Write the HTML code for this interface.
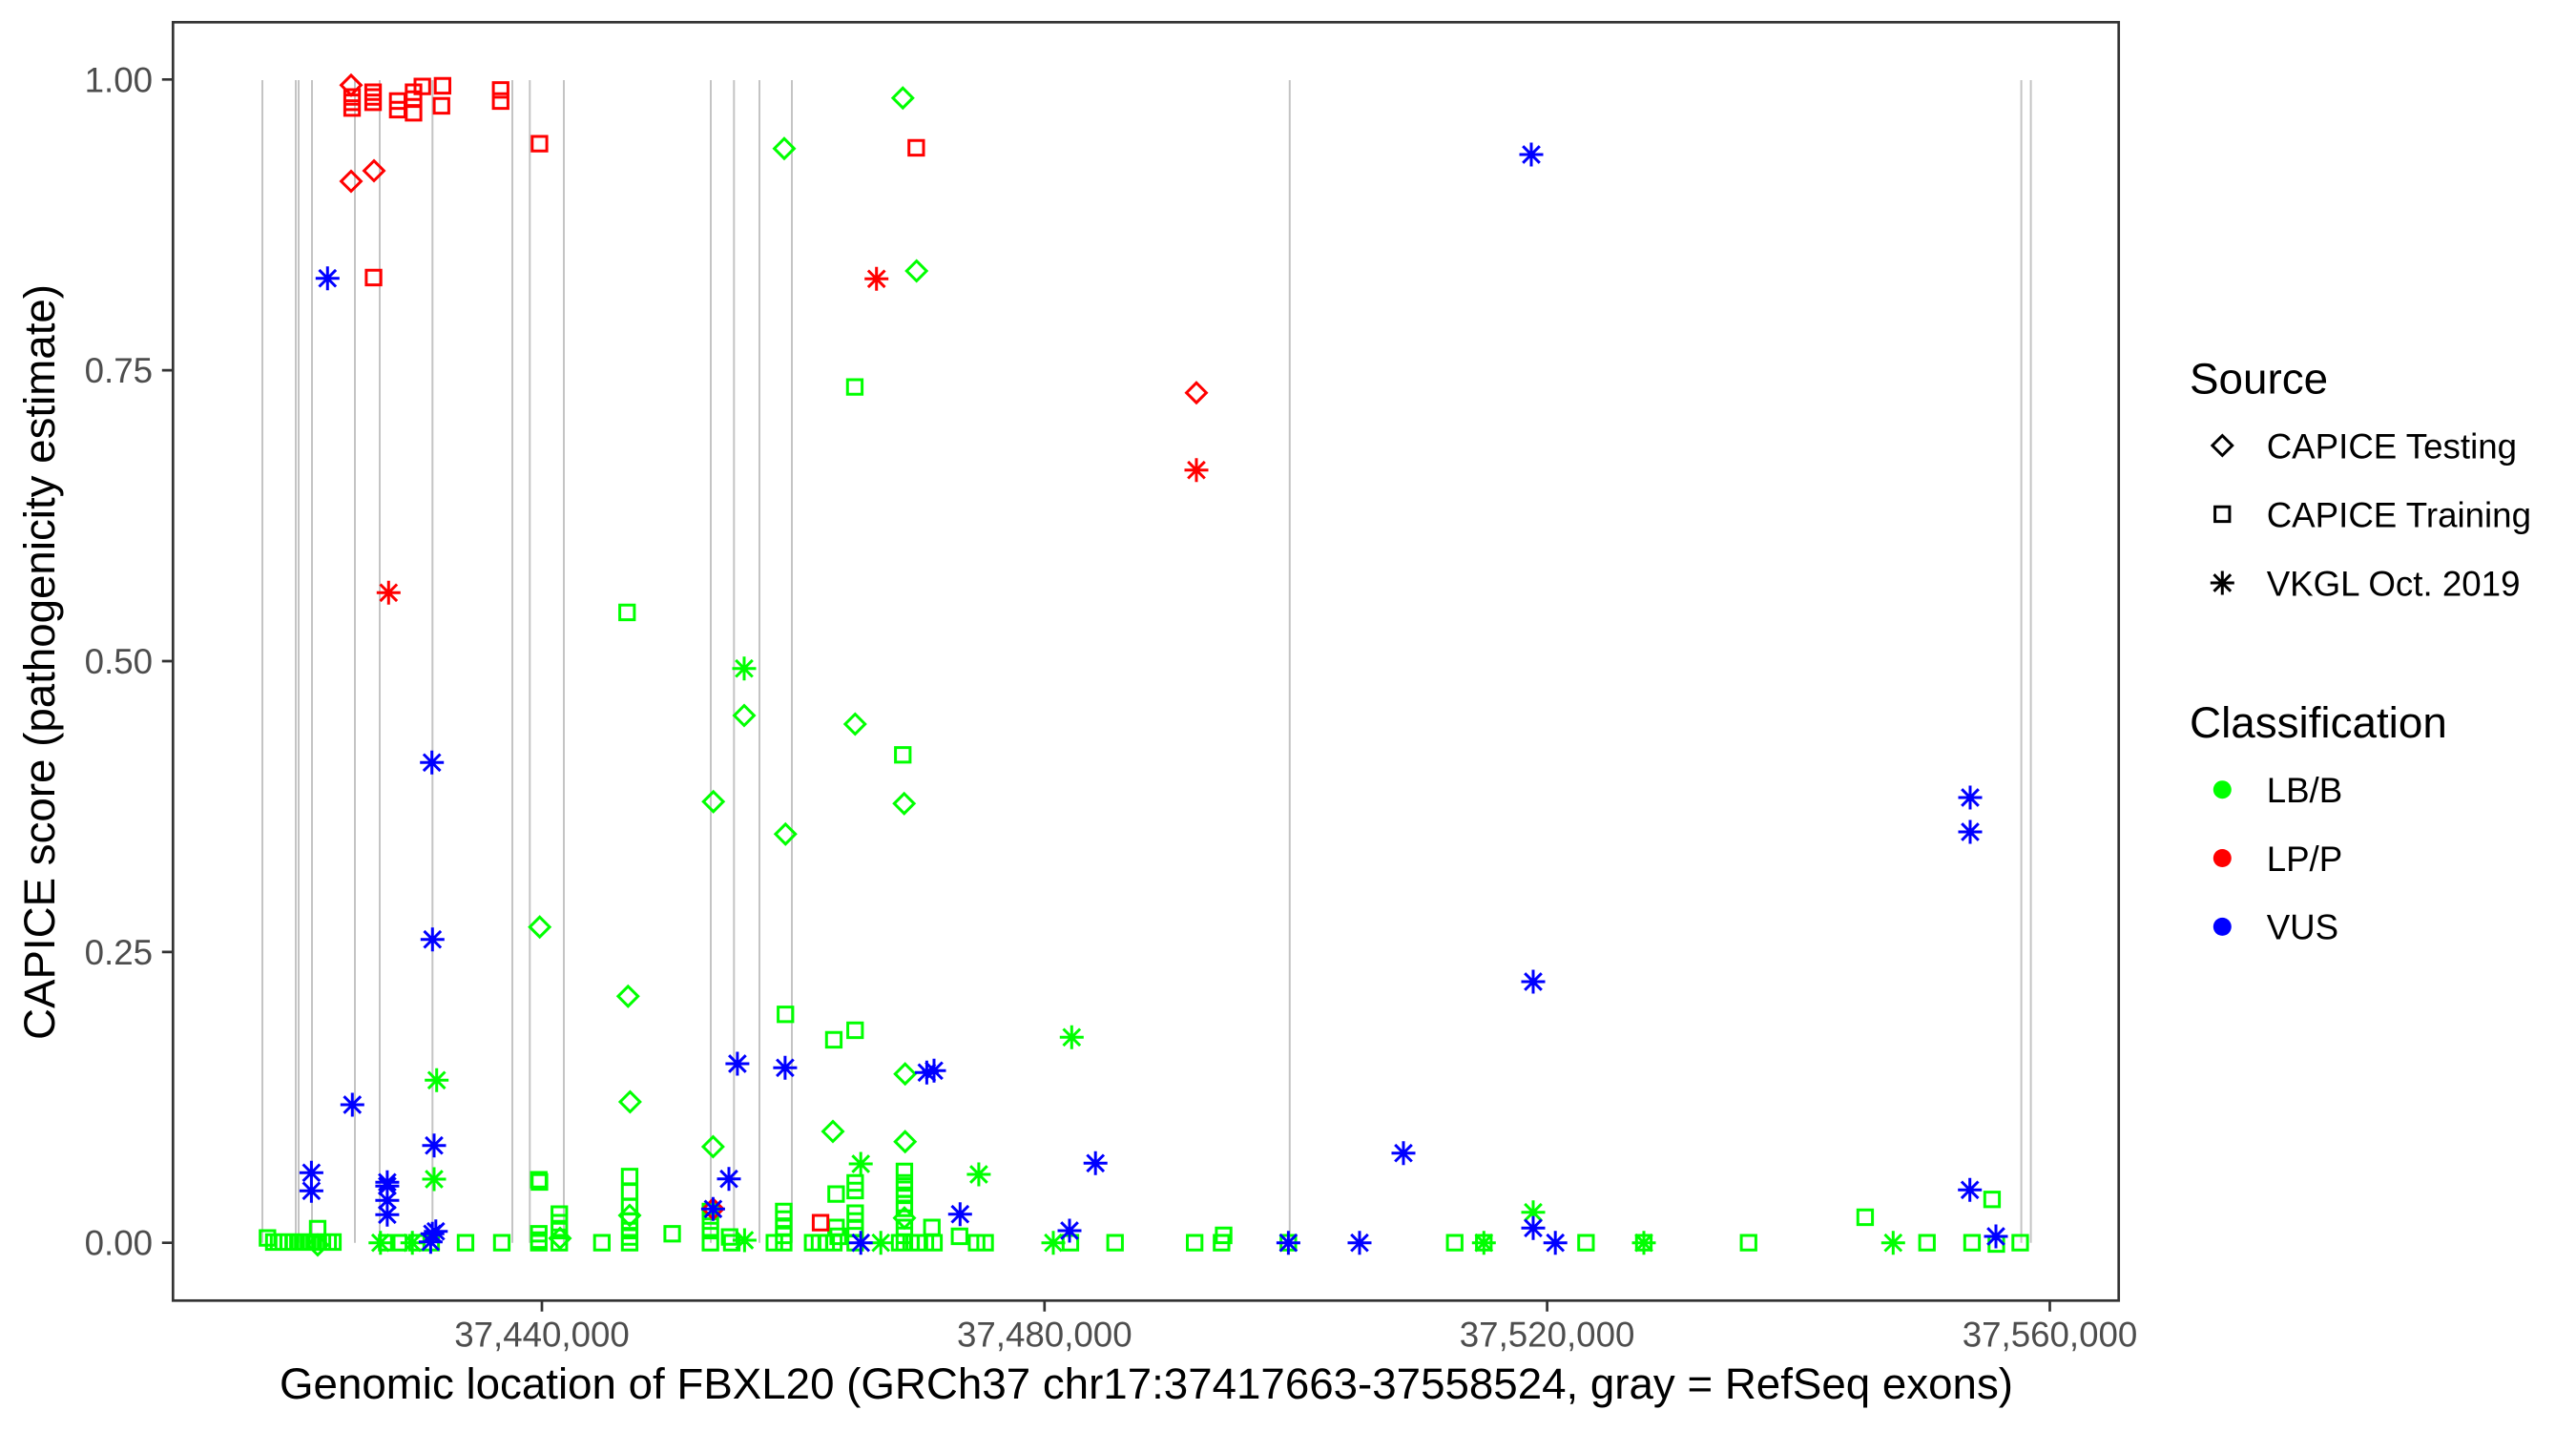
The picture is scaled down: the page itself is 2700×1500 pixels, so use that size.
<!DOCTYPE html>
<html>
<head>
<meta charset="utf-8">
<style>
html,body{margin:0;padding:0;background:#fff;}
svg{display:block;}
text{font-family:"Liberation Sans",Arial,Helvetica,sans-serif;}
</style>
</head>
<body>
<svg width="2700" height="1500" viewBox="0 0 2700 1500" xmlns="http://www.w3.org/2000/svg">
<rect x="0" y="0" width="2700" height="1500" fill="#ffffff"/>
<rect x="181.3" y="23.3" width="2039.4" height="1340" fill="#ffffff"/>

<!-- exon lines -->
<path fill="none" stroke="#C4C4C4" stroke-width="2" d="M275 84V1302.7M310 84V1302.7M313 84V1302.7M327 84V1302.7M372 84V1302.7M398 84V1302.7M453.3 84V1302.7M537 84V1302.7M555.3 84V1302.7M591 84V1302.7M745 84V1302.7M769.3 84V1302.7M796 84V1302.7M830 84V1302.7M1351.8 84V1302.7M2118.6 84V1302.7M2128.6 84V1302.7"/>

<!-- green squares -->
<path fill="none" stroke="#00FF00" stroke-width="3" d="
M649.6 634.3h15.3v15.3h-15.3z M938.6 783.6h15.3v15.3h-15.3z M815.6 1055.6h15.3v15.3h-15.3z M866.3 1082.3h15.3v15.3h-15.3z M888.6 1072.3h15.3v15.3h-15.3z M888.3 398h15.3v15.3h-15.3z
M737 1262.3h15.3v15.3h-15.3z M557.1 1229h15.3v15.3h-15.3z M557.8 1231.3h15.3v15.3h-15.3z M557.1 1285.6h15.3v15.3h-15.3z M557.1 1292.3h15.3v15.3h-15.3z M557.1 1295h15.3v15.3h-15.3z
M578.6 1265h15.3v15.3h-15.3z M578.6 1274h15.3v15.3h-15.3z M578.6 1282.3h15.3v15.3h-15.3z M578.6 1295h15.3v15.3h-15.3z
M652.3 1225.6h15.3v15.3h-15.3z M652.3 1241.6h15.3v15.3h-15.3z M652.3 1257.3h15.3v15.3h-15.3z M652.3 1272.3h15.3v15.3h-15.3z M652.3 1282.3h15.3v15.3h-15.3z M652.3 1289h15.3v15.3h-15.3z M652.3 1295h15.3v15.3h-15.3z
M868.7 1244h15.3v15.3h-15.3z M696.9 1285.6h15.3v15.3h-15.3z M737 1272.3h15.3v15.3h-15.3z M737 1282.3h15.3v15.3h-15.3z M737 1295h15.3v15.3h-15.3z M757.1 1289h15.3v15.3h-15.3z M759.3 1295h15.3v15.3h-15.3z
M623.2 1295h15.3v15.3h-15.3z M480.3 1295h15.3v15.3h-15.3z M518.3 1295h15.3v15.3h-15.3z M397.7 1295h15.3v15.3h-15.3z M410.3 1295h15.3v15.3h-15.3z M429.3 1295h15.3v15.3h-15.3z M444.3 1295h15.3v15.3h-15.3z
M272.7 1290h15.3v15.3h-15.3z M279.3 1294.3h15.3v15.3h-15.3z M284.3 1294.3h15.3v15.3h-15.3z M289.3 1294.3h15.3v15.3h-15.3z M294.3 1294.3h15.3v15.3h-15.3z M300.3 1294.3h15.3v15.3h-15.3z M306.3 1294.3h15.3v15.3h-15.3z M312.3 1294.3h15.3v15.3h-15.3z M318.3 1294.3h15.3v15.3h-15.3z M324.3 1294.3h15.3v15.3h-15.3z M330.3 1294.3h15.3v15.3h-15.3z M336.3 1294.3h15.3v15.3h-15.3z M341.3 1294.3h15.3v15.3h-15.3z M325.3 1280.3h15.3v15.3h-15.3z
M813.8 1262.3h15.3v15.3h-15.3z M813.8 1270.3h15.3v15.3h-15.3z M813.8 1279h15.3v15.3h-15.3z M813.8 1287.3h15.3v15.3h-15.3z M813.8 1295h15.3v15.3h-15.3z M804 1295h15.3v15.3h-15.3z
M844.1 1295h15.3v15.3h-15.3z M851.3 1295h15.3v15.3h-15.3z M858.3 1295h15.3v15.3h-15.3z M866.3 1295h15.3v15.3h-15.3z M870.9 1288.3h15.3v15.3h-15.3z M868.6 1279h15.3v15.3h-15.3z
M888.7 1232.3h15.3v15.3h-15.3z M888.7 1240.3h15.3v15.3h-15.3z M888.7 1264h15.3v15.3h-15.3z M888.7 1272.3h15.3v15.3h-15.3z M888.7 1280.3h15.3v15.3h-15.3z M888.7 1295h15.3v15.3h-15.3z
M940.3 1220.3h15.3v15.3h-15.3z M940.3 1232.3h15.3v15.3h-15.3z M940.3 1239h15.3v15.3h-15.3z M940.3 1245.3h15.3v15.3h-15.3z M940.3 1254h15.3v15.3h-15.3z M940.3 1259h15.3v15.3h-15.3z M940.3 1279h15.3v15.3h-15.3z M940.3 1287.3h15.3v15.3h-15.3z M940.3 1295h15.3v15.3h-15.3z
M935.3 1295h15.3v15.3h-15.3z M947.3 1295h15.3v15.3h-15.3z M954.3 1295h15.3v15.3h-15.3z M962.3 1295h15.3v15.3h-15.3z M971.3 1295h15.3v15.3h-15.3z M969.1 1279h15.3v15.3h-15.3z M998.1 1288.3h15.3v15.3h-15.3z
M1016 1295h15.3v15.3h-15.3z M1024.9 1295h15.3v15.3h-15.3z M1114.3 1295h15.3v15.3h-15.3z M1161.1 1295h15.3v15.3h-15.3z M1244.5 1295h15.3v15.3h-15.3z M1272.7 1295h15.3v15.3h-15.3z M1274.9 1287.3h15.3v15.3h-15.3z M1342.7 1295h15.3v15.3h-15.3z
M1517.1 1295h15.3v15.3h-15.3z M1547.6 1295h15.3v15.3h-15.3z M1654.7 1295h15.3v15.3h-15.3z M1715.3 1295h15.3v15.3h-15.3z M1825.1 1295h15.3v15.3h-15.3z M1947.3 1268.3h15.3v15.3h-15.3z M2012.1 1295h15.3v15.3h-15.3z M2059.3 1295h15.3v15.3h-15.3z M2080.3 1249.6h15.3v15.3h-15.3z M2084.8 1296.3h15.3v15.3h-15.3z M2109.8 1295h15.3v15.3h-15.3z"/>

<!-- green diamonds -->
<path fill="none" stroke="#00FF00" stroke-width="3" d="
M946.3 92.3l10.4 10.4-10.4 10.4-10.4-10.4z M822 145.3l10.4 10.4-10.4 10.4-10.4-10.4z M960.7 273.6l10.4 10.4-10.4 10.4-10.4-10.4z
M565.7 961.3l10.4 10.4-10.4 10.4-10.4-10.4z M658.3 1033.9l10.4 10.4-10.4 10.4-10.4-10.4z M780 739.6l10.4 10.4-10.4 10.4-10.4-10.4z
M896.3 748.6l10.4 10.4-10.4 10.4-10.4-10.4z M747.7 829.9l10.4 10.4-10.4 10.4-10.4-10.4z M947.7 831.9l10.4 10.4-10.4 10.4-10.4-10.4z
M823.3 863.9l10.4 10.4-10.4 10.4-10.4-10.4z M660.4 1144.6l10.4 10.4-10.4 10.4-10.4-10.4z M747.4 1191.6l10.4 10.4-10.4 10.4-10.4-10.4z
M873 1175.6l10.4 10.4-10.4 10.4-10.4-10.4z M660 1263.6l10.4 10.4-10.4 10.4-10.4-10.4z M587 1287.6l10.4 10.4-10.4 10.4-10.4-10.4z
M333 1294.6l10.4 10.4-10.4 10.4-10.4-10.4z M948.7 1115.3l10.4 10.4-10.4 10.4-10.4-10.4z M948.7 1186.3l10.4 10.4-10.4 10.4-10.4-10.4z
M948 1266.3l10.4 10.4-10.4 10.4-10.4-10.4z"/>

<!-- green asterisks -->
<path fill="none" stroke="#00FF00" stroke-width="3" d="
M767.5 700.7h25m-12.5-12.5v25m-8.8-3.7l17.6-17.6m0 17.6l-17.6-17.6
M1110.8 1087.3h25m-12.5-12.5v25m-8.8-3.7l17.6-17.6m0 17.6l-17.6-17.6
M445.2 1132.3h25m-12.5-12.5v25m-8.8-3.7l17.6-17.6m0 17.6l-17.6-17.6
M442.5 1236h25m-12.5-12.5v25m-8.8-3.7l17.6-17.6m0 17.6l-17.6-17.6
M386.3 1302.7h25m-12.5-12.5v25m-8.8-3.7l17.6-17.6m0 17.6l-17.6-17.6
M419.7 1302.7h25m-12.5-12.5v25m-8.8-3.7l17.6-17.6m0 17.6l-17.6-17.6
M767.9 1300h25m-12.5-12.5v25m-8.8-3.7l17.6-17.6m0 17.6l-17.6-17.6
M889.7 1220h25m-12.5-12.5v25m-8.8-3.7l17.6-17.6m0 17.6l-17.6-17.6
M1013.4 1231h25m-12.5-12.5v25m-8.8-3.7l17.6-17.6m0 17.6l-17.6-17.6
M910.7 1302.7h25m-12.5-12.5v25m-8.8-3.7l17.6-17.6m0 17.6l-17.6-17.6
M1091.5 1302.7h25m-12.5-12.5v25m-8.8-3.7l17.6-17.6m0 17.6l-17.6-17.6
M1594.5 1270.7h25m-12.5-12.5v25m-8.8-3.7l17.6-17.6m0 17.6l-17.6-17.6
M1542.8 1302.7h25m-12.5-12.5v25m-8.8-3.7l17.6-17.6m0 17.6l-17.6-17.6
M1710.5 1302.7h25m-12.5-12.5v25m-8.8-3.7l17.6-17.6m0 17.6l-17.6-17.6
M1971.8 1302.7h25m-12.5-12.5v25m-8.8-3.7l17.6-17.6m0 17.6l-17.6-17.6"/>

<!-- red squares -->
<path fill="none" stroke="#FF0000" stroke-width="3" d="
M361.4 94h15.3v15.3h-15.3z M361.4 99.6h15.3v15.3h-15.3z M361.4 105.6h15.3v15.3h-15.3z M383.4 89h15.3v15.3h-15.3z M383.4 94h15.3v15.3h-15.3z M383.4 99.6h15.3v15.3h-15.3z
M409.2 98.3h15.3v15.3h-15.3z M409.2 107.3h15.3v15.3h-15.3z M425.8 89h15.3v15.3h-15.3z M425.8 96.3h15.3v15.3h-15.3z M425.8 110.6h15.3v15.3h-15.3z M435 83h15.3v15.3h-15.3z
M455.1 103.3h15.3v15.3h-15.3z M456.2 82.3h15.3v15.3h-15.3z M517.1 86.6h15.3v15.3h-15.3z M517.1 98.3h15.3v15.3h-15.3z M557.8 143h15.3v15.3h-15.3z M383.9 283.3h15.3v15.3h-15.3z
M952.7 147.3h15.3v15.3h-15.3z M852.4 1274h15.3v15.3h-15.3z"/>

<!-- red diamonds -->
<path fill="none" stroke="#FF0000" stroke-width="3" d="
M368 78.9l10.4 10.4-10.4 10.4-10.4-10.4z M368 179.6l10.4 10.4-10.4 10.4-10.4-10.4z M392 168.6l10.4 10.4-10.4 10.4-10.4-10.4z
M1254 401.3l10.4 10.4-10.4 10.4-10.4-10.4z M747.4 1256.9l10.4 10.4-10.4 10.4-10.4-10.4z"/>

<!-- red asterisks -->
<path fill="none" stroke="#FF0000" stroke-width="3" d="
M394.8 621.3h25m-12.5-12.5v25m-8.8-3.7l17.6-17.6m0 17.6l-17.6-17.6
M906.2 292.3h25m-12.5-12.5v25m-8.8-3.7l17.6-17.6m0 17.6l-17.6-17.6
M1241.5 492.7h25m-12.5-12.5v25m-8.8-3.7l17.6-17.6m0 17.6l-17.6-17.6"/>

<!-- blue asterisks -->
<path fill="none" stroke="#0000FF" stroke-width="3" d="
M330.8 291.7h25m-12.5-12.5v25m-8.8-3.7l17.6-17.6m0 17.6l-17.6-17.6
M440.2 799.3h25m-12.5-12.5v25m-8.8-3.7l17.6-17.6m0 17.6l-17.6-17.6
M440.8 984.7h25m-12.5-12.5v25m-8.8-3.7l17.6-17.6m0 17.6l-17.6-17.6
M1592.5 162h25m-12.5-12.5v25m-8.8-3.7l17.6-17.6m0 17.6l-17.6-17.6
M1594.5 1029h25m-12.5-12.5v25m-8.8-3.7l17.6-17.6m0 17.6l-17.6-17.6
M2052.5 836h25m-12.5-12.5v25m-8.8-3.7l17.6-17.6m0 17.6l-17.6-17.6
M2052.5 872h25m-12.5-12.5v25m-8.8-3.7l17.6-17.6m0 17.6l-17.6-17.6
M356.8 1158h25m-12.5-12.5v25m-8.8-3.7l17.6-17.6m0 17.6l-17.6-17.6
M442.5 1200.7h25m-12.5-12.5v25m-8.8-3.7l17.6-17.6m0 17.6l-17.6-17.6
M313.9 1229.3h25m-12.5-12.5v25m-8.8-3.7l17.6-17.6m0 17.6l-17.6-17.6
M313.9 1248.3h25m-12.5-12.5v25m-8.8-3.7l17.6-17.6m0 17.6l-17.6-17.6
M393.4 1239.3h25m-12.5-12.5v25m-8.8-3.7l17.6-17.6m0 17.6l-17.6-17.6
M393.4 1243.3h25m-12.5-12.5v25m-8.8-3.7l17.6-17.6m0 17.6l-17.6-17.6
M393.4 1258.3h25m-12.5-12.5v25m-8.8-3.7l17.6-17.6m0 17.6l-17.6-17.6
M393.4 1273.3h25m-12.5-12.5v25m-8.8-3.7l17.6-17.6m0 17.6l-17.6-17.6
M444.3 1290.7h25m-12.5-12.5v25m-8.8-3.7l17.6-17.6m0 17.6l-17.6-17.6
M440.7 1293.3h25m-12.5-12.5v25m-8.8-3.7l17.6-17.6m0 17.6l-17.6-17.6
M438.9 1301.7h25m-12.5-12.5v25m-8.8-3.7l17.6-17.6m0 17.6l-17.6-17.6
M760.4 1115h25m-12.5-12.5v25m-8.8-3.7l17.6-17.6m0 17.6l-17.6-17.6
M810.4 1119.3h25m-12.5-12.5v25m-8.8-3.7l17.6-17.6m0 17.6l-17.6-17.6
M751.5 1235.7h25m-12.5-12.5v25m-8.8-3.7l17.6-17.6m0 17.6l-17.6-17.6
M734.9 1267.3h25m-12.5-12.5v25m-8.8-3.7l17.6-17.6m0 17.6l-17.6-17.6
M958.9 1124.3h25m-12.5-12.5v25m-8.8-3.7l17.6-17.6m0 17.6l-17.6-17.6
M966.5 1122.3h25m-12.5-12.5v25m-8.8-3.7l17.6-17.6m0 17.6l-17.6-17.6
M1135.7 1219.3h25m-12.5-12.5v25m-8.8-3.7l17.6-17.6m0 17.6l-17.6-17.6
M993.8 1272.7h25m-12.5-12.5v25m-8.8-3.7l17.6-17.6m0 17.6l-17.6-17.6
M1108.5 1290h25m-12.5-12.5v25m-8.8-3.7l17.6-17.6m0 17.6l-17.6-17.6
M889.7 1302.7h25m-12.5-12.5v25m-8.8-3.7l17.6-17.6m0 17.6l-17.6-17.6
M1337.9 1302.7h25m-12.5-12.5v25m-8.8-3.7l17.6-17.6m0 17.6l-17.6-17.6
M1458.5 1208.7h25m-12.5-12.5v25m-8.8-3.7l17.6-17.6m0 17.6l-17.6-17.6
M1412.5 1302.7h25m-12.5-12.5v25m-8.8-3.7l17.6-17.6m0 17.6l-17.6-17.6
M1594.5 1287.3h25m-12.5-12.5v25m-8.8-3.7l17.6-17.6m0 17.6l-17.6-17.6
M1617.7 1302.7h25m-12.5-12.5v25m-8.8-3.7l17.6-17.6m0 17.6l-17.6-17.6
M2052.2 1247.3h25m-12.5-12.5v25m-8.8-3.7l17.6-17.6m0 17.6l-17.6-17.6
M2079.5 1296h25m-12.5-12.5v25m-8.8-3.7l17.6-17.6m0 17.6l-17.6-17.6"/>

<!-- panel border -->
<rect x="181.3" y="23.3" width="2039.4" height="1340" fill="none" stroke="#333333" stroke-width="2.7"/>

<!-- y ticks -->
<path stroke="#333333" stroke-width="2.7" d="M169.8 83.3H181.3M169.8 388.15H181.3M169.8 693H181.3M169.8 997.85H181.3M169.8 1302.7H181.3"/>
<g font-size="36.7" fill="#4D4D4D" text-anchor="end">
<text x="160" y="96.3">1.00</text>
<text x="160" y="401.2">0.75</text>
<text x="160" y="706">0.50</text>
<text x="160" y="1010.9">0.25</text>
<text x="160" y="1315.7">0.00</text>
</g>

<!-- x ticks -->
<path stroke="#333333" stroke-width="2.7" d="M568 1363.3V1374.8M1094.8 1363.3V1374.8M1621.6 1363.3V1374.8M2148.5 1363.3V1374.8"/>
<g font-size="36.7" fill="#4D4D4D" text-anchor="middle">
<text x="568" y="1411.5">37,440,000</text>
<text x="1094.8" y="1411.5">37,480,000</text>
<text x="1621.6" y="1411.5">37,520,000</text>
<text x="2148.5" y="1411.5">37,560,000</text>
</g>

<!-- axis titles -->
<text x="1201.5" y="1466" font-size="45.8" fill="#000" text-anchor="middle" textLength="1817" lengthAdjust="spacingAndGlyphs">Genomic location of FBXL20 (GRCh37 chr17:37417663-37558524, gray = RefSeq exons)</text>
<text transform="translate(57,694) rotate(-90)" font-size="45.8" fill="#000" text-anchor="middle" textLength="792" lengthAdjust="spacingAndGlyphs">CAPICE score (pathogenicity estimate)</text>

<!-- legend -->
<text x="2295" y="412.5" font-size="45.8" fill="#000">Source</text>
<path fill="none" stroke="#000" stroke-width="3" d="M2329.3 456.6l10.4 10.4-10.4 10.4-10.4-10.4z"/>
<path fill="none" stroke="#000" stroke-width="3" d="M2321.6 531.3h15.3v15.3h-15.3z"/>
<path fill="none" stroke="#000" stroke-width="3" d="M2316.8 611h25m-12.5-12.5v25m-8.8-3.7l17.6-17.6m0 17.6l-17.6-17.6"/>
<g font-size="36.7" fill="#000">
<text x="2375.7" y="480.3">CAPICE Testing</text>
<text x="2375.7" y="552.3">CAPICE Training</text>
<text x="2375.7" y="624.3">VKGL Oct. 2019</text>
</g>
<text x="2295" y="773.2" font-size="45.8" fill="#000">Classification</text>
<circle cx="2329.3" cy="827.7" r="9.5" fill="#00FF00"/>
<circle cx="2329.3" cy="899.5" r="9.5" fill="#FF0000"/>
<circle cx="2329.3" cy="971.4" r="9.5" fill="#0000FF"/>
<g font-size="36.7" fill="#000">
<text x="2375.7" y="841">LB/B</text>
<text x="2375.7" y="912.8">LP/P</text>
<text x="2375.7" y="984.7">VUS</text>
</g>
</svg>
</body>
</html>
